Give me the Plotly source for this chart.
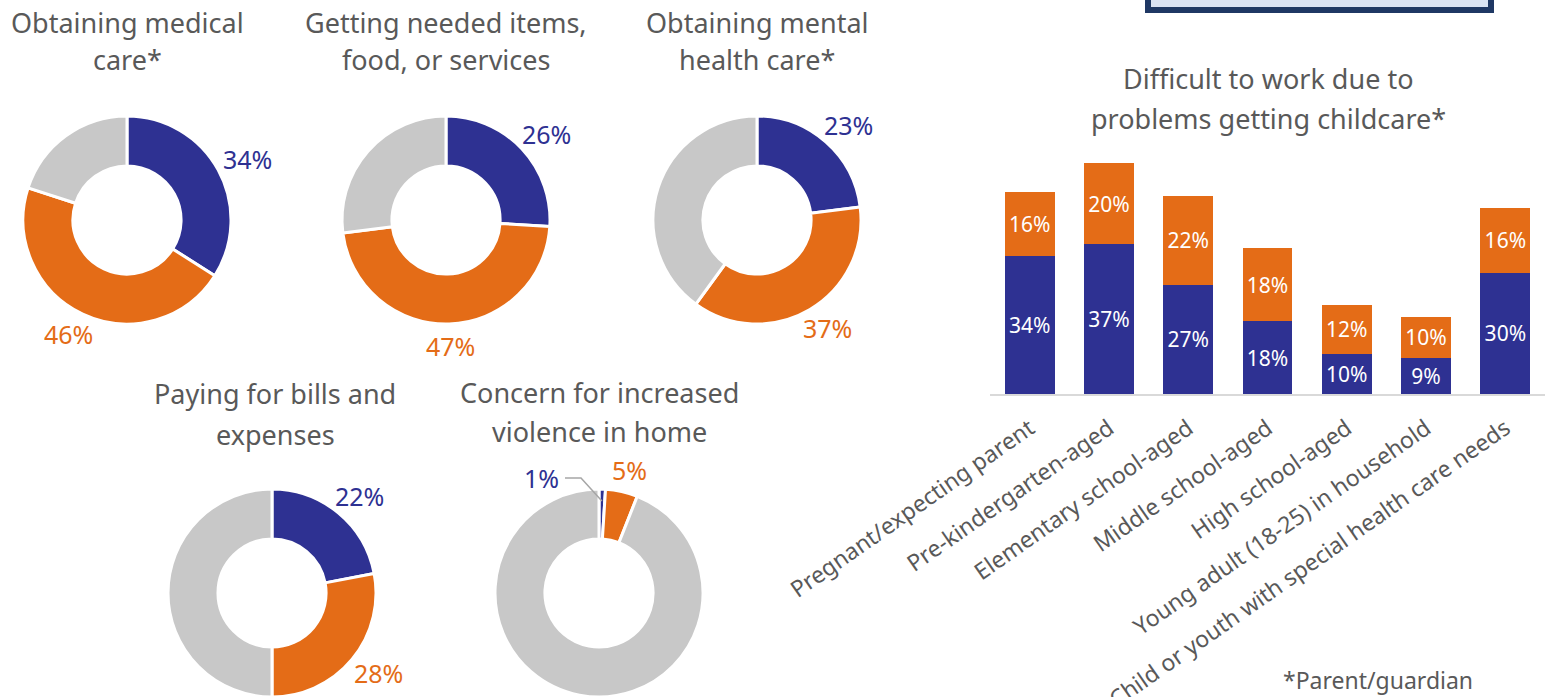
import math
import plotly.graph_objects as go

W, H = 1568, 697
OFF = 0  # body margin removed via post_script

# ---------------- data ----------------
donut_titles = [
    ["Obtaining medical", "care*"],
    ["Getting needed items,", "food, or services"],
    ["Obtaining mental", "health care*"],
    ["Paying for bills and", "expenses"],
    ["Concern for increased", "violence in home"],
]
donut_blue = [34, 26, 23, 22, 1]
donut_orange = [46, 47, 37, 28, 5]
donut_grey = [20, 27, 40, 50, 94]

bar_title = ["Difficult to work due to", "problems getting childcare*"]
bar_categories = [
    "Pregnant/expecting parent",
    "Pre-kindergarten-aged",
    "Elementary school-aged",
    "Middle school-aged",
    "High school-aged",
    "Young adult (18-25) in household",
    "Child or youth with special health care needs",
]
bar_blue = [34, 37, 27, 18, 10, 9, 30]
bar_orange = [16, 20, 22, 18, 12, 10, 16]
footnote = "*Parent/guardian"

# ---------------- style ----------------
BLUE = "#2E3192"
ORANGE = "#E46C17"
GREY = "#C8C8C8"
TXT = "#595959"
FONT = "Noto Sans"

centers = [(127, 220), (446, 220), (757, 220), (272, 593), (599, 593)]
R = 104
title_pos = [(127, (22, 60)), (446, (22, 60)), (757, (22, 60)),
             (275, (393, 434)), (599, (392, 432))]


def px(x):
    return (x - OFF) / W


def py(y):
    return 1 - (y - OFF) / H


fig = go.Figure()
annotations = []
shapes = []

for i, (cx, cy) in enumerate(centers):
    vals = [donut_blue[i], donut_orange[i], donut_grey[i]]
    fig.add_trace(go.Pie(
        values=vals,
        labels=["a", "b", "c"],
        marker=dict(colors=[BLUE, ORANGE, GREY], line=dict(color="white", width=3)),
        hole=0.52,
        sort=False,
        direction="clockwise",
        rotation=0,
        textinfo="none",
        hoverinfo="none",
        showlegend=False,
        domain=dict(x=[px(cx - R), px(cx + R)], y=[py(cy + R), py(cy - R)]),
    ))
    # titles
    tx, tys = title_pos[i]
    for line, ty in zip(donut_titles[i], tys):
        annotations.append(dict(x=px(tx), y=py(ty), xref="paper", yref="paper",
                                text=line, showarrow=False, xanchor="center", yanchor="middle",
                                font=dict(size=27, color=TXT, family=FONT)))
    # value labels
    total = sum(vals)
    cum = 0
    for v, col in zip(vals[:2], [BLUE, ORANGE]):
        mid = (cum + v / 2) / total * 2 * math.pi
        cum += v
        dx, dy = math.sin(mid), -math.cos(mid)
        if v / total < 0.03:
            # leader line label
            ex, ey = cx + dx * (R - 12), cy + dy * (R - 12)
            lx, ly = cx - 34, cy - 115
            shapes.append(dict(type="path", xref="paper", yref="paper",
                               path=f"M {px(lx)},{py(ly)} L {px(lx + 16)},{py(ly)} L {px(ex)},{py(ey)}",
                               line=dict(color="#A6A6A6", width=1.5)))
            annotations.append(dict(x=px(lx - 4), y=py(ly), xref="paper", yref="paper",
                                    text=f"{v}%", showarrow=False, xanchor="right", yanchor="middle",
                                    font=dict(size=25, color=col, family=FONT)))
        else:
            gap = R + 10
            lxp = cx + dx * (gap + 24)
            lyp = cy + dy * (gap + 12)
            annotations.append(dict(x=px(lxp), y=py(lyp), xref="paper", yref="paper",
                                    text=f"{v}%", showarrow=False, xanchor="center", yanchor="middle",
                                    font=dict(size=25, color=col, family=FONT)))

# ---------------- bar chart ----------------
for vals, col in ((bar_blue, BLUE), (bar_orange, ORANGE)):
    fig.add_trace(go.Bar(
        x=bar_categories, y=vals, marker_color=col, marker_line_width=0,
        text=[f"{v}%" for v in vals], textposition="inside", insidetextanchor="middle",
        textfont=dict(color="white", size=21, family=FONT), showlegend=False, hoverinfo="none",
        xaxis="x", yaxis="y",
    ))

for line, ty in zip(bar_title, (78, 118)):
    annotations.append(dict(x=px(1268), y=py(ty), xref="paper", yref="paper",
                            text=line, showarrow=False, xanchor="center", yanchor="middle",
                            font=dict(size=27, color=TXT, family=FONT)))

annotations.append(dict(x=px(1378), y=py(680), xref="paper", yref="paper",
                        text=footnote, showarrow=False, xanchor="center", yanchor="middle",
                        font=dict(size=23, color=TXT, family=FONT)))

# top-right box (partially visible)
shapes.append(dict(type="rect", xref="paper", yref="paper",
                   x0=px(1148), x1=px(1491), y0=py(10), y1=py(-20),
                   line=dict(color="#1F3864", width=6), fillcolor="#DAE3F3", layer="below"))

fig.update_layout(
    width=W, height=H,
    margin=dict(l=0, r=0, t=0, b=0),
    paper_bgcolor="white", plot_bgcolor="white",
    barmode="stack", bargap=0.37,
    font=dict(family=FONT, color=TXT),
    xaxis=dict(domain=[px(990), px(1545)], anchor="y", showline=True, linecolor="#D9D9D9",
               linewidth=2, ticks="", showgrid=False, tickangle=-35, ticklabelstandoff=10,
               tickfont=dict(size=23, color=TXT, family=FONT), automargin=False),
    yaxis=dict(domain=[py(394), py(151)], range=[0, 60], visible=False, anchor="x"),
    annotations=annotations,
    shapes=shapes,
)

fig.write_html("out.html", config={"displayModeBar": False},
               post_script="document.body.style.margin='0px';document.body.style.overflow='hidden';")
